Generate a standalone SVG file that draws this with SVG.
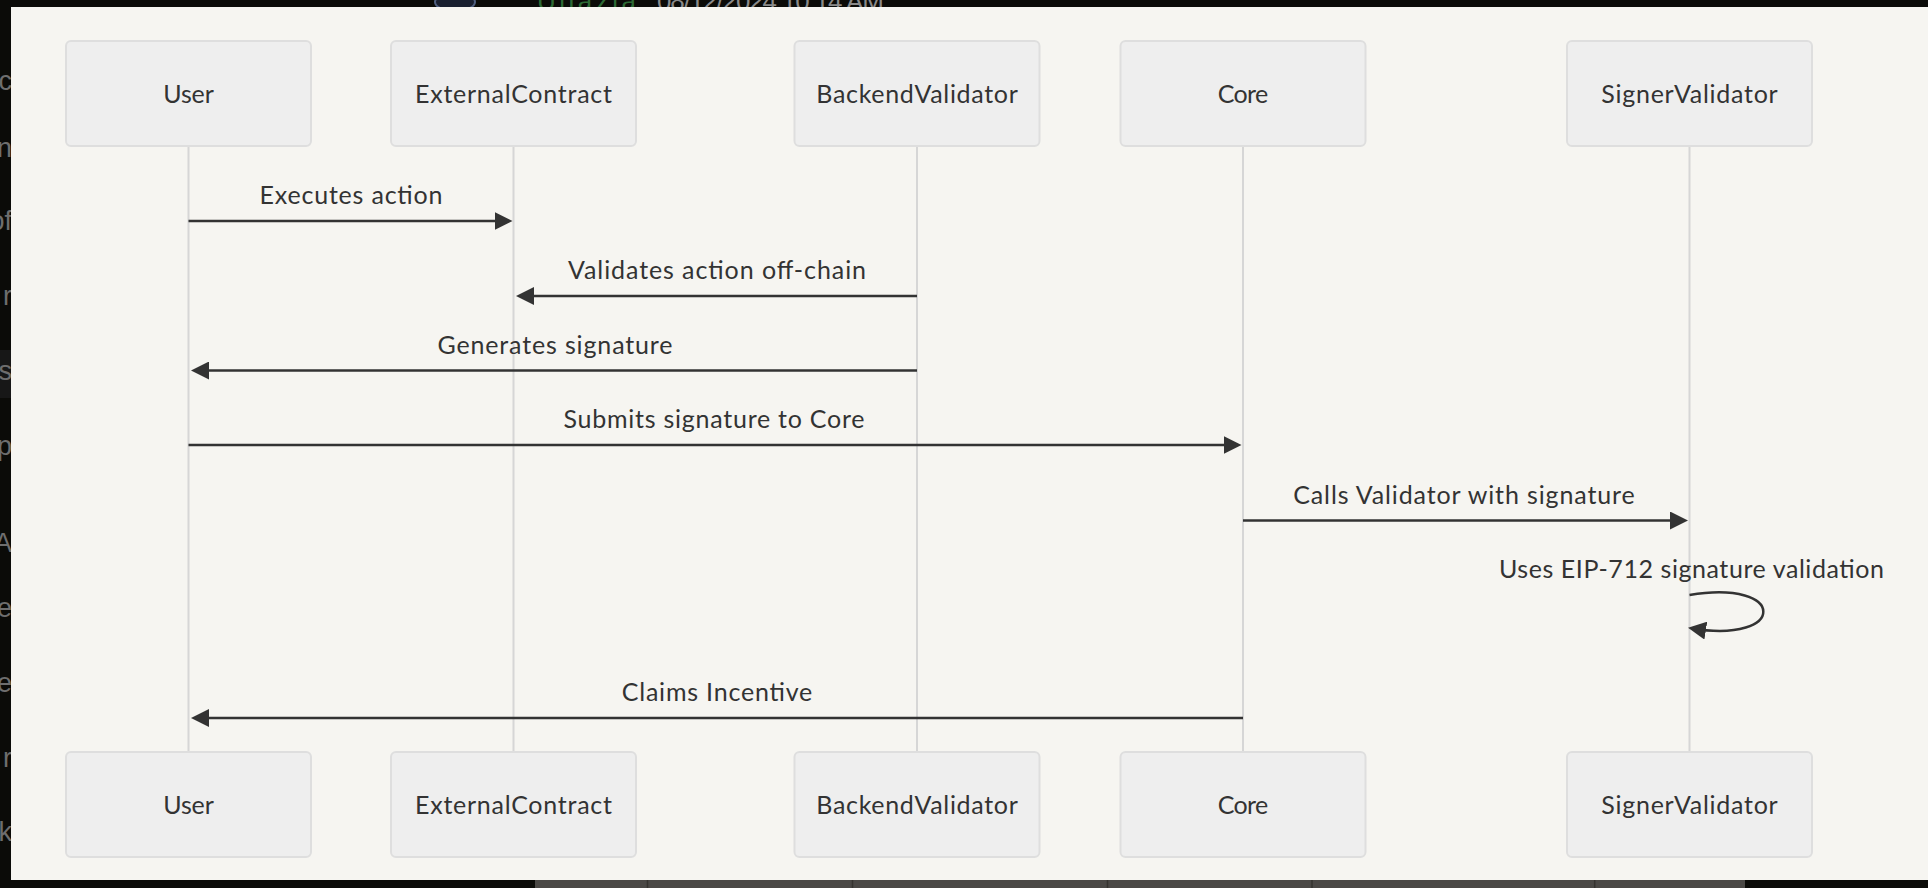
<svg xmlns="http://www.w3.org/2000/svg" width="1928" height="888" viewBox="0 0 1928 888">
  <style>
    .actor rect { fill: #eeeeee; stroke: #dedede; stroke-width: 2; }
    .actor text { font-family: Lato, "Open Sans", "Liberation Sans", sans-serif; font-size: 25px; fill: #333333; text-anchor: middle; }
    .lifeline { stroke: #d6d6d6; stroke-width: 2; fill: none; }
    .msg { stroke: #333333; stroke-width: 2.5; fill: none; marker-end: url(#ah); }
    .label { font-family: Lato, "Open Sans", "Liberation Sans", sans-serif; font-size: 25px; fill: #333333; text-anchor: middle; }
    .frag { font-family: "Liberation Sans", Arial, sans-serif; font-size: 27px; fill: #6e6e6e; text-anchor: end; }
  </style>
  <defs>
    <marker id="ah" markerUnits="userSpaceOnUse" markerWidth="18" markerHeight="18" viewBox="0 0 18 18" refX="14" refY="9" orient="auto">
      <path d="M0,0 L18,9 L0,18 z" fill="#333333"/>
    </marker>
  </defs>

  <!-- screenshot surroundings -->
  <g id="surroundings">
    <rect x="0" y="0" width="1928" height="888" fill="#0b0b08"/>
    <rect x="535" y="880" width="1210" height="8" fill="#4a4845"/>
    <g stroke="#35332f" stroke-width="1.5">
      <line x1="647.5" y1="880" x2="647.5" y2="888"/>
      <line x1="852.5" y1="880" x2="852.5" y2="888"/>
      <line x1="1107.5" y1="880" x2="1107.5" y2="888"/>
      <line x1="1312" y1="880" x2="1312" y2="888"/>
      <line x1="1594.7" y1="880" x2="1594.7" y2="888"/>
    </g>
    <ellipse cx="455" cy="2" rx="20" ry="9" fill="#1a2030" stroke="#4f5f80" stroke-width="2"/>
    <text x="537" y="10" font-family="'Liberation Sans', Arial, sans-serif" font-size="26" fill="#2d6a35" textLength="99">Uliazia</text>
    <text x="657" y="10" font-family="'Liberation Sans', Arial, sans-serif" font-size="26" fill="#8a8a8a" textLength="227">08/12/2024 10:14 AM</text>
    <rect x="0" y="350" width="11" height="48" fill="#171717"/>
    <text class="frag" x="12" y="90">c</text>
    <text class="frag" x="12" y="157">n</text>
    <text class="frag" x="12" y="230">of</text>
    <text class="frag" x="12" y="305">r</text>
    <text class="frag" x="12" y="380">s</text>
    <text class="frag" x="12" y="455">p</text>
    <text class="frag" x="12" y="552">A</text>
    <text class="frag" x="12" y="617">e</text>
    <text class="frag" x="12" y="692">e</text>
    <text class="frag" x="12" y="767">r</text>
    <text class="frag" x="12" y="841">k</text>
    <rect x="11" y="7" width="1917" height="873" fill="#f6f5f1"/>
  </g>

  <!-- lifelines -->
  <g id="lifelines">
    <line class="lifeline" x1="188.5" y1="146" x2="188.5" y2="752"/>
    <line class="lifeline" x1="513.5" y1="146" x2="513.5" y2="752"/>
    <line class="lifeline" x1="917" y1="146" x2="917" y2="752"/>
    <line class="lifeline" x1="1243" y1="146" x2="1243" y2="752"/>
    <line class="lifeline" x1="1689.5" y1="146" x2="1689.5" y2="752"/>
  </g>

  <!-- actors -->
  <g id="user" class="actor">
    <rect x="66" y="41" width="245" height="105" rx="5"/>
    <text x="188.5" y="103" textLength="50.5">User</text>
    <rect x="66" y="752" width="245" height="105" rx="5"/>
    <text x="188.5" y="814" textLength="50.5">User</text>
  </g>
  <g id="externalcontract" class="actor">
    <rect x="391" y="41" width="245" height="105" rx="5"/>
    <text x="513.5" y="103" textLength="197">ExternalContract</text>
    <rect x="391" y="752" width="245" height="105" rx="5"/>
    <text x="513.5" y="814" textLength="197">ExternalContract</text>
  </g>
  <g id="backendvalidator" class="actor">
    <rect x="794.5" y="41" width="245" height="105" rx="5"/>
    <text x="917" y="103" textLength="201.5">BackendValidator</text>
    <rect x="794.5" y="752" width="245" height="105" rx="5"/>
    <text x="917" y="814" textLength="201.5">BackendValidator</text>
  </g>
  <g id="core" class="actor">
    <rect x="1120.5" y="41" width="245" height="105" rx="5"/>
    <text x="1243" y="103" textLength="50.4">Core</text>
    <rect x="1120.5" y="752" width="245" height="105" rx="5"/>
    <text x="1243" y="814" textLength="50.4">Core</text>
  </g>
  <g id="signervalidator" class="actor">
    <rect x="1567" y="41" width="245" height="105" rx="5"/>
    <text x="1689.5" y="103" textLength="176.4">SignerValidator</text>
    <rect x="1567" y="752" width="245" height="105" rx="5"/>
    <text x="1689.5" y="814" textLength="176.4">SignerValidator</text>
  </g>

  <!-- connectors -->
  <g id="connectors">
    <path class="msg" d="M188.5,221 H508.5"/>
    <path class="msg" d="M917,296 H520"/>
    <path class="msg" d="M917,370.5 H195"/>
    <path class="msg" d="M188.5,445 H1237.5"/>
    <path class="msg" d="M1243,520.5 H1684"/>
    <path class="msg" d="M1689.5,595 C1787.5,578.7 1787.5,644 1692,628.4"/>
    <path class="msg" d="M1243,718 H195"/>
  </g>

  <!-- message labels -->
  <g id="labels">
    <text class="label" x="351" y="204" textLength="183">Executes action</text>
    <text class="label" x="717" y="279" textLength="298">Validates action off-chain</text>
    <text class="label" x="555" y="353.5" textLength="235">Generates signature</text>
    <text class="label" x="714" y="428" textLength="301">Submits signature to Core</text>
    <text class="label" x="1464" y="503.5" textLength="341.5">Calls Validator with signature</text>
    <text class="label" x="1691.5" y="578" textLength="385">Uses EIP-712 signature validation</text>
    <text class="label" x="717" y="701" textLength="190.6">Claims Incentive</text>
  </g>
</svg>
